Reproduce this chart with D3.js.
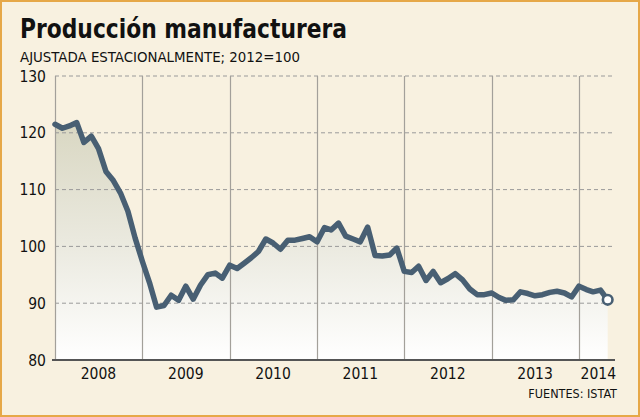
<!DOCTYPE html>
<html><head><meta charset="utf-8">
<script src="https://cdn.jsdelivr.net/npm/d3@7"></script>
<style>
html,body{margin:0;padding:0;background:#f8f1e0;}
svg{display:block;}
text{font-family:"DejaVu Sans Condensed","DejaVu Sans",sans-serif;fill:#111;}
</style></head>
<body>
<script>
const startMonth = "2008-01";
const values2008 = [121.5,120.8,121.2,121.8,118.3,119.4,117.2,113.2,111.6,109.4,106.2,101.5];
const values2009 = [97.3,93.4,89.3,89.6,91.4,90.5,93.0,90.7,93.2,95.0,95.3,94.4];
const values2010 = [96.7,96.1,97.0,98.0,99.1,101.3,100.6,99.5,101.1,101.1,101.4,101.7];
const values2011 = [100.8,103.3,102.9,104.1,101.8,101.3,100.8,103.4,98.4,98.3,98.5,99.7];
const values2012 = [95.6,95.4,96.5,94.0,95.6,93.6,94.3,95.2,94.1,92.5,91.5,91.5];
const values2013 = [91.8,91.0,90.5,90.6,92.0,91.7,91.3,91.5,91.9,92.1,91.8,91.1];
const values2014 = [93.0,92.4,92.0,92.3,90.6];
const yearLabels = ["2008","2009","2010","2011","2012","2013","2014"];
const yTicks = [80,90,100,110,120,130];
const title = "Producción manufacturera";
const subtitle = "AJUSTADA ESTACIONALMENTE; 2012=100";
const source = "FUENTES: ISTAT";

const W = 640, H = 417;
const allValues = [].concat(values2008,values2009,values2010,values2011,values2012,values2013,values2014);
const parse = d3.timeParse("%Y-%m");
const t0 = parse(startMonth);
const data = allValues.map((v,i)=>({date:d3.timeMonth.offset(t0,i), value:v}));

const svg = d3.select("body").append("svg").attr("width",W).attr("height",H);

// frame
svg.append("rect").attr("x",1).attr("y",1).attr("width",W-2).attr("height",H-2)
  .attr("fill","#f8f1e0").attr("stroke","#e6a848").attr("stroke-width",2);

const x = d3.scaleTime().domain([parse("2008-01"), parse("2014-01")]).range([55,579]);
const y = d3.scaleLinear().domain([80,130]).range([360,76]);
const xEnd = 615;

const defs = svg.append("defs");
const grad = defs.append("linearGradient").attr("id","fillGrad")
  .attr("gradientUnits","userSpaceOnUse").attr("x1",0).attr("x2",0).attr("y1",110).attr("y2",360);
grad.append("stop").attr("offset","0").attr("stop-color","#d7d5bf");
grad.append("stop").attr("offset","0.55").attr("stop-color","#ebeae0");
grad.append("stop").attr("offset","1").attr("stop-color","#ffffff");

// area
const area = d3.area().x(d=>x(d.date)).y0(y(80)).y1(d=>y(d.value));
svg.append("path").datum(data).attr("d",area).attr("fill","url(#fillGrad)");

// horizontal gridlines
svg.append("g").selectAll("line").data(yTicks.filter(v=>v>80)).join("line")
  .attr("x1",55).attr("x2",xEnd).attr("y1",d=>y(d)).attr("y2",d=>y(d))
  .attr("stroke","#9a9a9a").attr("stroke-width",1).attr("stroke-dasharray","4,3");

// vertical lines at year boundaries
const yearStarts = yearLabels.map(s=>parse(s+"-01"));
svg.append("g").selectAll("line").data(yearStarts).join("line")
  .attr("x1",d=>Math.round(x(d))+0.5).attr("x2",d=>Math.round(x(d))+0.5)
  .attr("y1",y(130)).attr("y2",y(80))
  .attr("stroke","#a3a09a").attr("stroke-width",1.2);

// bottom axis line
svg.append("line").attr("x1",52).attr("x2",xEnd).attr("y1",y(80)).attr("y2",y(80))
  .attr("stroke","#555").attr("stroke-width",1.8);

// y labels
svg.append("g").selectAll("text").data(yTicks).join("text")
  .attr("x",46).attr("y",d=>y(d)+5.5).attr("text-anchor","end")
  .attr("font-size",15.5).text(d=>d);

// x labels
svg.append("g").selectAll("text").data(yearLabels).join("text")
  .attr("x",(d,i)=> i===yearLabels.length-1 ? xEnd+1 : x(parse(d+"-07")))
  .attr("text-anchor",(d,i)=> i===yearLabels.length-1 ? "end":"middle")
  .attr("y",379).attr("font-size",15.5).text(d=>d);

// line
const line = d3.line().x(d=>x(d.date)).y(d=>y(d.value));
svg.append("path").datum(data).attr("d",line).attr("fill","none")
  .attr("stroke","#485f73").attr("stroke-width",5.5)
  .attr("stroke-linejoin","round").attr("stroke-linecap","round");

// end marker
const last = data[data.length-1];
svg.append("circle").attr("cx",x(last.date)).attr("cy",y(last.value)).attr("r",4.8)
  .attr("fill","#fff").attr("stroke","#485f73").attr("stroke-width",2.6);

// titles
svg.append("text").attr("x",20).attr("y",38).attr("font-size",26).attr("font-weight","bold")
  .attr("textLength",327).attr("lengthAdjust","spacingAndGlyphs").text(title);
svg.append("text").attr("x",20).attr("y",62).attr("font-size",14)
  .attr("textLength",280).attr("lengthAdjust","spacingAndGlyphs").text(subtitle);
svg.append("text").attr("x",617).attr("y",398).attr("font-size",12.5).attr("text-anchor","end")
  .text(source);
</script>
</body></html>
